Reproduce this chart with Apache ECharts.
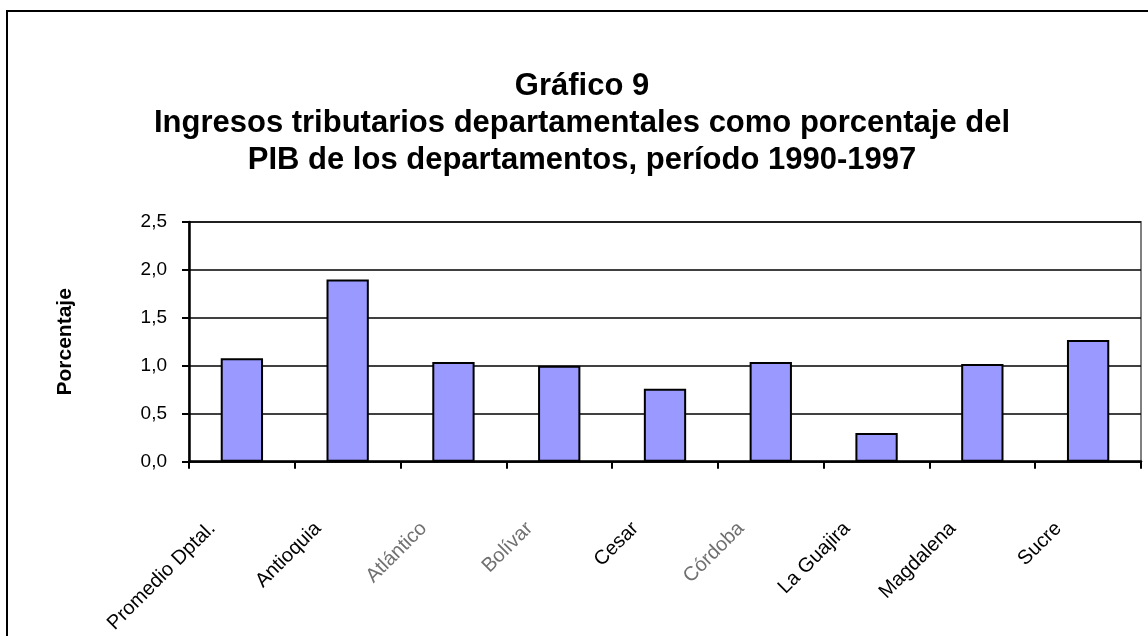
<!DOCTYPE html>
<html>
<head>
<meta charset="utf-8">
<style>html,body{margin:0;padding:0;background:#fff}#c{width:1148px;height:636px}</style>
<script src="https://cdn.jsdelivr.net/npm/echarts@6/dist/echarts.min.js"></script>
</head>
<body>
<div id="c"></div>
<script>
const titleLines = ['Gráfico 9', 'Ingresos tributarios departamentales como porcentaje del', 'PIB de los departamentos, período 1990-1997'];
const yAxisName = 'Porcentaje';
const categories = ['Promedio Dptal.', 'Antioquia', 'Atlántico', 'Bolívar', 'Cesar', 'Córdoba', 'La Guajira', 'Magdalena', 'Sucre'];
const values = [1.08, 1.90, 1.04, 1.00, 0.76, 1.04, 0.30, 1.02, 1.27];
const yTicks = [0, 0.5, 1.0, 1.5, 2.0, 2.5];
const fadedLabels = ['Atlántico', 'Bolívar', 'Córdoba'];

const chart = echarts.init(document.getElementById('c'), null, {renderer: 'canvas'});
chart.setOption({
  animation: false,
  backgroundColor: '#fff',
  graphic: [{
    type: 'rect', shape: {x: 7, y: 11, width: 1300, height: 800},
    style: {fill: 'none', stroke: '#000', lineWidth: 2}, silent: true, z: 100
  }],
  title: {
    text: titleLines.join('\n'),
    left: 577, top: 63, textAlign: 'center',
    textStyle: {fontFamily: 'Liberation Sans, Arial, sans-serif', fontSize: 31, fontWeight: 'bold', color: '#000', lineHeight: 37}
  },
  grid: {left: 189, right: 7, top: 222, bottom: 172, show: true, borderColor: '#808080', borderWidth: 2, containLabel: false},
  xAxis: {
    type: 'category', data: categories,
    axisLine: {lineStyle: {color: '#000', width: 2.5}},
    axisTick: {show: true, alignWithLabel: false, length: 7, lineStyle: {color: '#000', width: 2}},
    axisLabel: {
      rotate: 45, margin: 34, interval: 0,
      fontFamily: 'Liberation Sans, Arial, sans-serif', fontSize: 20,
      padding: [0, 42, 0, 0],
      color: function (v) { return fadedLabels.indexOf(v) >= 0 ? '#707070' : '#000'; }
    }
  },
  yAxis: {
    type: 'value', min: yTicks[0], max: yTicks[yTicks.length - 1], interval: 0.5,
    name: yAxisName, nameLocation: 'middle', nameRotate: 90, nameGap: 113,
    nameTextStyle: {fontFamily: 'Liberation Sans, Arial, sans-serif', fontSize: 21, fontWeight: 'bold', color: '#000'},
    axisLine: {show: true, lineStyle: {color: '#000', width: 2.5}},
    axisTick: {show: true, length: 7, lineStyle: {color: '#000', width: 2}},
    axisLabel: {
      margin: 22, fontFamily: 'Liberation Sans, Arial, sans-serif', fontSize: 19, color: '#000',
      formatter: function (v) { return v.toFixed(1).replace('.', ','); }
    },
    splitLine: {show: true, lineStyle: {color: '#000', width: 1.5}}
  },
  series: [{
    type: 'bar', data: values, barWidth: '40%',
    itemStyle: {color: '#9999FF', borderColor: '#000', borderWidth: 2}
  }]
});
</script>
</body>
</html>
